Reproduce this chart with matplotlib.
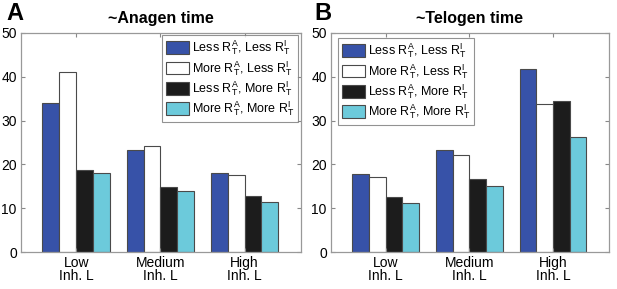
import matplotlib
matplotlib.use("Agg")
import matplotlib.pyplot as plt
import numpy as np

plt.rcParams['font.family'] = ['Liberation Sans', 'DejaVu Sans']
plt.rcParams['mathtext.fontset'] = 'custom'
plt.rcParams['mathtext.rm'] = 'Liberation Sans'
plt.rcParams['mathtext.it'] = 'Liberation Sans'

categories = ["Low\nInh. L", "Medium\nInh. L", "High\nInh. L"]
series_labels = [r"Less R$^{A}_{T}$, Less R$^{I}_{T}$",
                 r"More R$^{A}_{T}$, Less R$^{I}_{T}$",
                 r"Less R$^{A}_{T}$, More R$^{I}_{T}$",
                 r"More R$^{A}_{T}$, More R$^{I}_{T}$"]
anagen = [[34.0, 23.2, 18.1],
          [41.1, 24.2, 17.5],
          [18.8, 14.8, 12.7],
          [18.0, 13.9, 11.5]]
telogen = [[17.9, 23.3, 41.7],
           [17.1, 22.1, 33.9],
           [12.5, 16.6, 34.4],
           [11.3, 15.1, 26.2]]
titles = ["~Anagen time", "~Telogen time"]
panel_labels = ["A", "B"]
yticks = [0, 10, 20, 30, 40, 50]

colors = ["#3752a8", "#ffffff", "#1c1c1c", "#6ccadb"]
edge = "#4a4a4a"

fig = plt.figure(figsize=(6.17, 2.89), dpi=100)
W, H = 617, 289
axes_px = [(21, 33, 280, 219), (331, 33, 278, 219)]
legend_locs = ["upper right", "upper left"]
legend_anchor_px = [(298, 35), (338, 38)]
label_px = [(6, 13), (314, 13)]

for i, (data, title) in enumerate(zip([anagen, telogen], titles)):
    x0, y0, w, h = axes_px[i]
    ax = fig.add_axes([x0 / W, 1 - (y0 + h) / H, w / W, h / H])
    x = np.arange(1, len(categories) + 1)
    bw = 0.2
    for j, vals in enumerate(data):
        ax.bar(x + (j - 1.5) * bw, vals, width=bw, color=colors[j],
               edgecolor=edge, linewidth=0.8, label=series_labels[j])
    ax.set_xlim(0.345, 3.67)
    ax.set_ylim(0, 50)
    ax.set_yticks(yticks)
    ax.set_xticks(x)
    ax.set_xticklabels(categories, fontsize=10, linespacing=0.92)
    ax.tick_params(axis='both', direction='in', length=3, labelsize=10,
                   top=True, right=True, color="#888888", pad=3)
    for s in ax.spines.values():
        s.set_color("#999999")
        s.set_linewidth(0.9)
    ax.set_title(title, fontsize=11.5, fontweight='bold', pad=7)
    ax_px, ay_px = legend_anchor_px[i]
    leg = ax.legend(loc=legend_locs[i], fontsize=9, frameon=True, fancybox=False,
                    edgecolor="#777777", handlelength=1.85, handleheight=1.2,
                    labelspacing=0.12, handletextpad=0.25, borderpad=0.3,
                    borderaxespad=0.0,
                    bbox_to_anchor=(ax_px / W, 1 - ay_px / H),
                    bbox_transform=fig.transFigure)
    leg.get_frame().set_linewidth(0.8)
    lx, ly = label_px[i]
    fig.text(lx / W, 1 - ly / H, panel_labels[i], fontsize=17,
             fontweight='bold', va='center', ha='left')

fig.savefig("out.png", dpi=100)
